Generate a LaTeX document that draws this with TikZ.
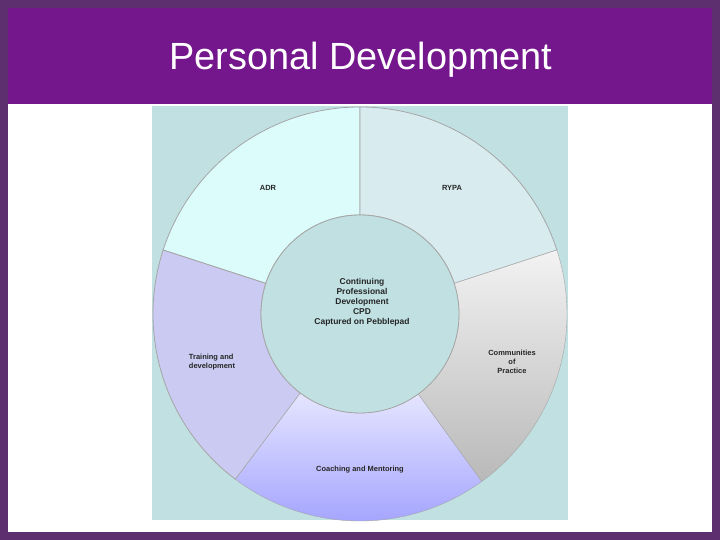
\documentclass[tikz,border=0pt]{standalone}
\usepackage{fontspec}
\setmainfont{Liberation Sans}
\usetikzlibrary{positioning}
\definecolor{frame}{HTML}{5E2F6E}
\definecolor{band}{HTML}{74168C}
\definecolor{backdrop}{HTML}{C0E0E2}
\definecolor{adrfill}{HTML}{DCFCFC}
\definecolor{rypafill}{HTML}{D8ECF0}
\definecolor{trainfill}{HTML}{CACAF2}
\tikzset{
  seg/.style={draw=gray!70, line width=0.8bp},
  lab/.style={font=\fontsize{7.5}{9}\selectfont\bfseries, align=center, text=black!85}
}
\begin{document}
\begin{tikzpicture}[x=1bp, y=1bp]
\useasboundingbox (0,0) rectangle (720,540);
\fill[frame] (0,0) rectangle (720,540);
\fill[white] (8,8) rectangle (712,532);
\fill[band] (8,436) rectangle (712,532);
\node (title) at (361,480) {\fontsize{38}{44}\selectfont\color{white}Personal Development};
\fill[backdrop] (152,20) rectangle (568,434);

% donut segments
\coordinate (c) at (360,226);
\def\ro{207}\def\ri{99}
\foreach \a/\b/\col in {90/162/adrfill, 18/90/rypafill, 162/233/trainfill}
{
  \filldraw[seg, fill=\col] ([shift={(\a:\ri)}]c) -- ([shift={(\a:\ro)}]c)
    arc[start angle=\a, end angle=\b, radius=\ro] -- ([shift={(\b:\ri)}]c)
    arc[start angle=\b, end angle=\a, radius=\ri] -- cycle;
}
% shading
\shade[top color=gray!10, bottom color=gray!55, draw=gray!70]
  ([shift={(-54:\ri)}]c) -- ([shift={(-54:\ro)}]c)
  arc[start angle=-54, end angle=18, radius=\ro] -- ([shift={(18:\ri)}]c)
  arc[start angle=18, end angle=-54, radius=\ri] -- cycle;
\shade[top color=blue!10, bottom color=blue!38, draw=gray!70]
  ([shift={(233:\ri)}]c) -- ([shift={(233:\ro)}]c)
  arc[start angle=233, end angle=306, radius=\ro] -- ([shift={(306:\ri)}]c)
  arc[start angle=306, end angle=233, radius=\ri] -- cycle;
\filldraw[seg, fill=backdrop] (c) circle[radius=\ri];

\node[lab] (adr) at (268,352) {ADR};
\node[lab] (rypa) at (452,352) {RYPA};
\node[lab] (comm) at (512,178) {Communities\\of\\Practice};
\node[lab] (coach) at (360,70) {Coaching and Mentoring};
\node[lab, align=left] (train) at (212,178) {Training and\\development};
\node[lab, font=\fontsize{8.5}{10}\selectfont\bfseries] (cpd) at (362,238) {Continuing\\Professional\\Development\\CPD\\Captured on Pebblepad};
\end{tikzpicture}
\end{document}
